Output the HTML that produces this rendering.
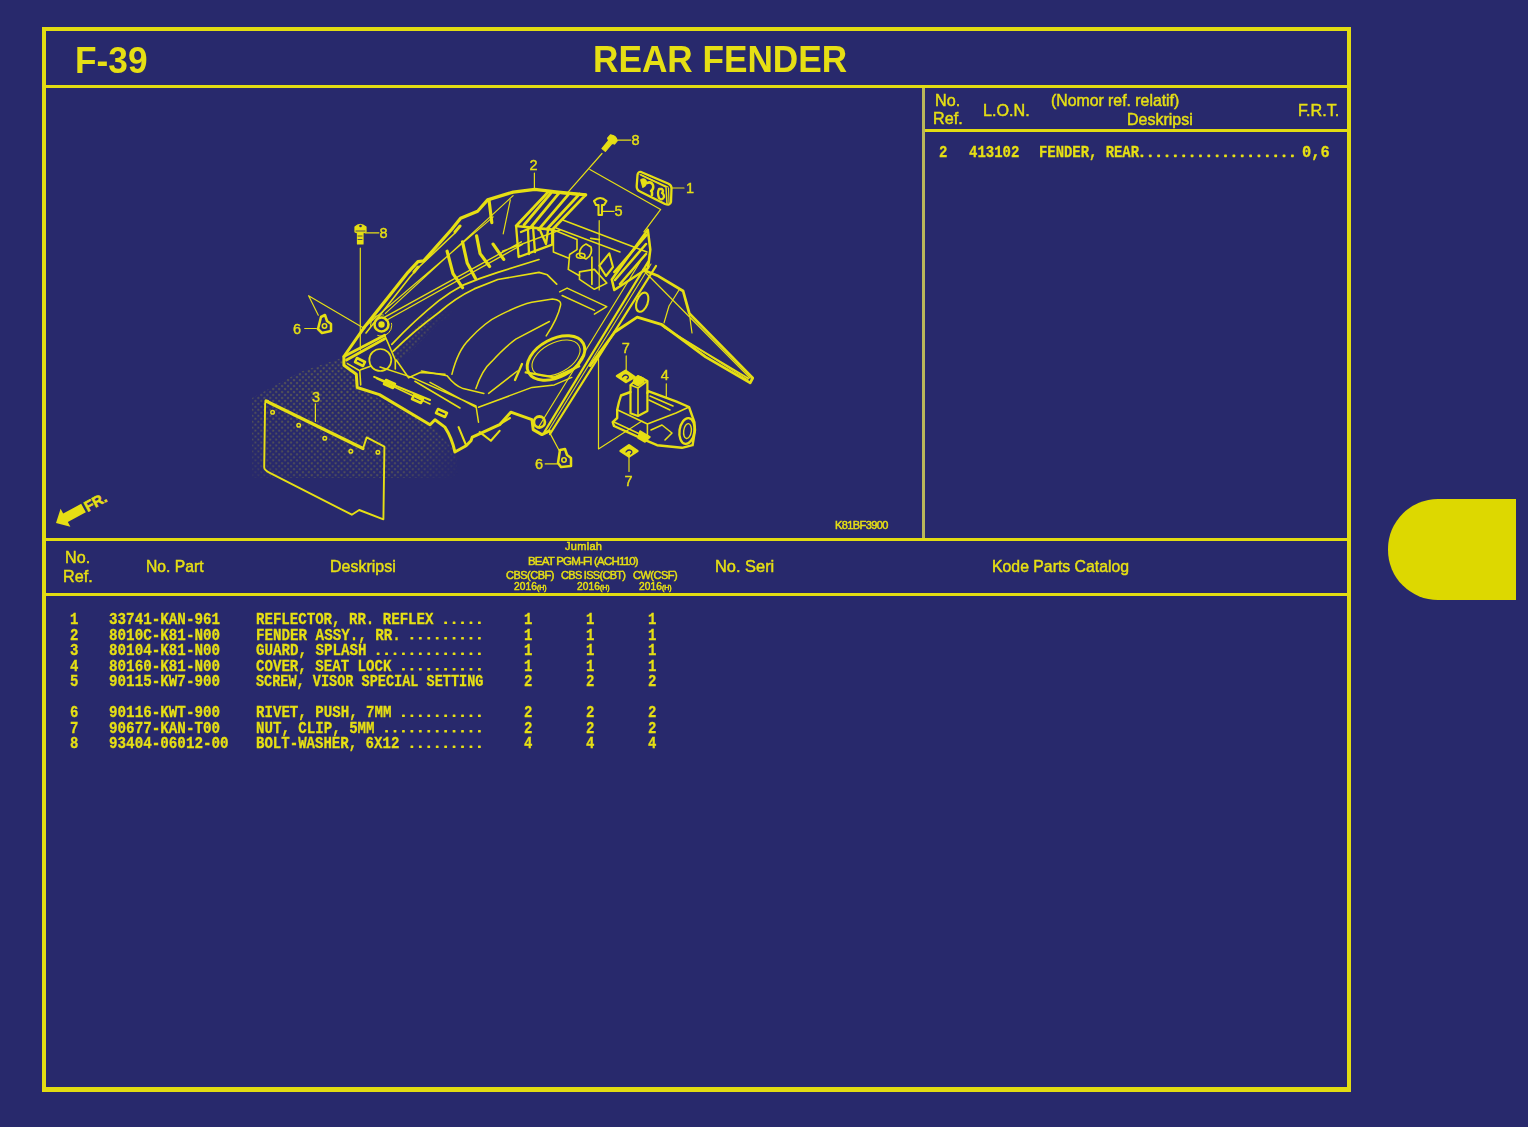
<!DOCTYPE html>
<html><head><meta charset="utf-8">
<style>
html,body{margin:0;padding:0;}
body{width:1528px;height:1127px;background:#28296c;position:relative;overflow:hidden;font-family:"Liberation Sans",sans-serif;color:#e6df14;}
.a{position:absolute;}
.ln{position:absolute;background:#e2dc12;}
.hs{font-family:"Liberation Sans",sans-serif;font-weight:bold;white-space:nowrap;line-height:1;}
.hd{font-family:"Liberation Sans",sans-serif;white-space:nowrap;line-height:1;-webkit-text-stroke:0.5px #e6df14;}
.mono{font-family:"Liberation Mono",monospace;font-weight:bold;white-space:pre;line-height:1;-webkit-text-stroke:0.3px #e6df14;}
.rows{line-height:15.5px;}
#tab{position:absolute;left:1388px;top:499px;width:128px;height:101px;background:#ddd800;border-radius:50px 0 0 50px / 50px 0 0 50px;}
svg{position:absolute;left:0;top:0;}
</style></head>
<body>
<div class="ln" style="left:42px;top:27px;width:1309px;height:4px;"></div>
<div class="ln" style="left:42px;top:1087px;width:1309px;height:5px;"></div>
<div class="ln" style="left:42px;top:27px;width:4px;height:1065px;"></div>
<div class="ln" style="left:1347px;top:27px;width:4px;height:1065px;"></div>
<div class="ln" style="left:46px;top:85px;width:1301px;height:3px;"></div>
<div class="ln" style="left:922px;top:88px;width:3px;height:450px;background:#b9b65a;"></div>
<div class="ln" style="left:925px;top:129px;width:422px;height:3px;"></div>
<div class="ln" style="left:46px;top:538px;width:1301px;height:3px;"></div>
<div class="ln" style="left:46px;top:593px;width:1301px;height:3px;"></div>
<div id="tab"></div>
<svg width="1528" height="1127" viewBox="0 0 1528 1127">
<defs>
<pattern id="dots" width="4.2" height="4.2" patternUnits="userSpaceOnUse" patternTransform="rotate(45)"><circle cx="2.1" cy="2.1" r="1" fill="#e6df14"/></pattern>
<radialGradient id="fade" cx="0.45" cy="0.55" r="0.6"><stop offset="0" stop-color="#fff" stop-opacity="1"/><stop offset="0.7" stop-color="#fff" stop-opacity="0.7"/><stop offset="1" stop-color="#fff" stop-opacity="0"/></radialGradient>
<mask id="fm" maskUnits="userSpaceOnUse" x="240" y="280" width="240" height="210"><rect x="240" y="280" width="240" height="210" fill="url(#fade)"/></mask>
</defs>
<!-- halftone shadow -->
<g mask="url(#fm)">
<path d="M252,398 L300,372 L345,357 L358,388 L432,426 L456,452 L458,478 L252,478 Z" fill="url(#dots)" opacity="0.34"/>
<path d="M392,352 L420,322 L450,300 L472,292 L470,302 L440,322 L410,352 L398,362 Z" fill="url(#dots)" opacity="0.3"/>
</g>
<g fill="none" stroke="#e6df14" stroke-linejoin="round" stroke-linecap="round">
<!-- splash guard item 3 -->
<path d="M363,448.5 L366.7,437.4 L384.4,446.7 L383.4,519.3 L359.2,510 L351.8,514.7 L269.8,472.8 Q264.2,470 264.2,467.2 L265.1,404 Q265.5,400 268,401" stroke-width="1.9"/>
<path d="M266,401 L363,448.5" stroke-width="3.2"/>
<g stroke-width="1.49"><circle cx="272.6" cy="412.2" r="1.8"/><circle cx="298.7" cy="425.3" r="1.8"/><circle cx="324.8" cy="438.3" r="1.8"/><circle cx="350.8" cy="451.3" r="1.8"/><circle cx="377.9" cy="452.3" r="1.8"/></g>
<path d="M315.4,403.8 V421.5" stroke-width="1.2"/>

<!-- leaders -->
<g stroke-width="1.2">
<path d="M360.3,248 V350"/>
<path d="M318.3,315.2 L308.6,295.7 L364.4,328.6"/>
<path d="M304.7,328.5 H316.4"/>
<path d="M365.2,232.8 H378.9"/>
<path d="M602,153.5 L567.6,192.7"/>
<path d="M589.9,169.4 L660.7,209.4 L643.9,231.8"/>
<path d="M671.9,188 H684"/>
<path d="M603,211.3 H614.1"/>
<path d="M617.9,140.1 H630.9"/>
<path d="M599.2,220.6 V290 M598.5,352 V448.9 L642,421"/>
<path d="M534.4,173.1 V188"/>
<path d="M666.3,383.8 V396.9"/>
<path d="M626.2,355.9 V369.9"/>
<path d="M629,457.4 V471.4"/>
<path d="M545.2,463.9 H557.3"/>
<path d="M549.4,432.1 L559.3,450.8"/>
</g>

<!-- fasteners -->
<g stroke-width="1.2" fill="#e6df14">
<path d="M355,227 Q360,222 366,227 L366,232 L363,233 L363,244 L357.5,244 L357.5,233 L355,232 Z"/>
<g transform="translate(612,140) rotate(40)"><path d="M-4.5,-3 Q0,-6 4.5,-3 L4.5,1.5 L2.2,2.5 L2.2,13 L-2.2,13 L-2.2,2.5 L-4.5,1.5 Z"/></g>
</g>
<path d="M356,231 H365 M358,236 H362 M358,239.5 H362" stroke="#28296c" stroke-width="0.8"/>
<circle cx="360.5" cy="226" r="1.3" fill="#28296c" stroke="none"/>
<path d="M594,201 Q600,195 606.5,201 L604,205 L602,205 L602,215 L598.5,215 L598.5,205 L596,205 Z" stroke-width="2.07"/>
<g stroke-width="2.53">
<path d="M321,317 L325,315 L327,321 L331,324 L331,331 L322,333 L318,329 Z"/>
<circle cx="324.5" cy="326" r="2.2" stroke-width="1.61"/>
<path d="M560,450 L565,449 L567,455 L571,458 L571,466 L561,467 L558,463 Z"/>
<circle cx="564" cy="460" r="2.2" stroke-width="1.61"/>
<path d="M617,376 L625.5,370.8 L634.6,377 L626,382 Z" fill="#e6df14"/>
<path d="M622.5,377 q2,-3 5,-1.5 q2,2 -0.5,3.5" stroke="#28296c" stroke-width="1.3"/>
<path d="M620.6,451 L629,445.3 L637.4,451 L629,456.5 Z" fill="#e6df14"/>
<path d="M626,452 q2,-3 5,-1.5 q2,2 -0.5,3.5" stroke="#28296c" stroke-width="1.3"/>
</g>
<!-- item 1 reflector -->
<path d="M641,172 Q638,171.5 637.5,175 L636.7,186 Q636.5,190 640,191.5 L665,204 Q670,206 671,202 L671.5,188 Q671.5,185 668,183.5 Z" stroke-width="2.3"/>
<path d="M641,175 L666,187 L667,204" stroke-width="1.49"/>
<path d="M640,174.5 L668,187 M668.5,188 L669,203" stroke-width="1.2"/>
<path d="M641,180 q3,-2 5,1 q1,4 -3,6 Z" fill="#e6df14" stroke-width="1.72"/>
<path d="M647,183 q4,-2 6,2 q1,4 -2,6 M652,192 l0,3" stroke-width="2.53"/>
<path d="M659,189 q-2,4 0,9 q3,3 5,-1 q0,-3 -2,-4 q2,-2 0,-4 Z" stroke-width="2.3"/>
<!-- FENDER -->
<!-- left rim outer thick -->
<path d="M364.1,327.6 L408,272.3 L418,261.6 L423.7,260.9 L452,229 L460.6,218.3 L477.6,211.2 L487.6,199.9 L513.1,192.1 L534.8,189.3 L555.9,191.8 L585.7,194.9" stroke-width="3.22"/>
<path d="M366,333 L410,277 L420,266 L455,233" stroke-width="1.61"/>
<path d="M365.5,326.2 L493.2,216.9 M385.4,313.4 L513.1,195.6 M510.3,199.9 L503.2,233.9" stroke-width="1.2"/>
<path d="M418,267 L414,272 M460,226 L455,232" stroke-width="2.99"/>
<!-- rib base double line -->
<path d="M384.7,317.2 L521.4,241.8 M386,320.5 L522.5,244.5 M502.5,251.2 L560,230" stroke-width="1.4"/>
<!-- ribs -->
<g stroke-width="3.2">
<path d="M447.1,251.2 L453,273.6 L462.5,287.7"/>
<path d="M462.5,241.8 L467.2,263 L475.4,278.3"/>
<path d="M476.6,235.9 L480.1,253.6 L489.6,266.5"/>
<path d="M493.1,244.1 L503.7,259.4"/>
<path d="M489,199.9 L491.8,222.6"/>
</g>
<!-- top grille -->
<path d="M548.4,191.8 L585.7,194.9 L552.2,229.7 L516.1,226 Z" stroke-width="2.76"/>
<path d="M516.1,226 L518.6,257 L552.2,244.6 L552.2,229.7" stroke-width="2.3"/>
<g stroke-width="2.76"><path d="M559.6,192.4 L531,227 M569.6,193.2 L538.5,229.7 M579.5,194 L547,229 M551,193 L524,225"/></g>
<path d="M521,232 L533,227 L535,252 M528,230 L529,254 M540,230 L546,244 L548,230" stroke-width="2.3"/>

<!-- back rim double -->
<path d="M562.1,219.8 L647,252 M556,228 L620,252" stroke-width="1.49"/>
<!-- bracket block -->
<path d="M553.4,229.7 L577,239.6 L577,249.6 L569.6,254.5 L568.3,269.4 L579.5,275.7 M553.4,229.7 L553.4,252 L568.3,258" stroke-width="1.61"/>
<path d="M590.7,238.4 L599.4,239.6 M591.9,257 L591.9,284.3 M586,244 q-8,4 -6,12 l6,3 q7,-4 5,-12 Z" stroke-width="1.72"/>
<ellipse cx="580.7" cy="255.8" rx="4.3" ry="2.5" stroke-width="1.61"/>
<path d="M579.5,271.9 L594.4,269.4 L606.8,283.1 L594.4,289.3 L579.5,279.4 Z" stroke-width="1.61"/>
<path d="M599.4,265.7 L609.3,253.3 L613,267 L606,276 Z" stroke-width="2.07"/>
<path d="M559.6,291.8 L567.1,288.1 L606.8,306.7 L594.4,314.2 M562.1,295.5 L594.4,310.4" stroke-width="1.49"/>
<!-- right grille panel -->
<path d="M647.8,229.7 L650.3,249.6 L648,268 L614.3,290 L611.8,279.4 Z" stroke-width="2.53"/>
<g stroke-width="2.53"><path d="M646.6,235 L614.3,272 M646,244 L615,280 M646,254 L620,284"/></g>
<!-- right rail -->
<g stroke-width="2.3">
<path d="M648,262 L544.4,432"/>
<path d="M656,266 L550,434"/>
<path d="M640,262 L538,428" stroke-width="1.2"/>
<path d="M651,264 L547,433" stroke-width="1.1"/>
</g>
<!-- rear flap -->
<path d="M643.4,269.9 L658.3,276.1 L683.1,291 L689.3,313.4 L752.7,378 L750.2,382.9 L705.5,356.9 L662,324.6 L637.2,317.1 L614.8,332 L590,365.6" stroke-width="2.76"/>
<path d="M664.5,327.5 L705,352.5 L748.5,378.5" stroke-width="1.6"/>
<path d="M645,272 L750,378 M662,326 L748,380 M679,290 L669,306 L664,323 M689.3,313.4 L692,333" stroke-width="1.2"/>
<ellipse cx="642.2" cy="302.2" rx="5.5" ry="10" transform="rotate(20 642.2 302.2)" stroke-width="2.07"/>

<!-- tub contours -->
<g stroke-width="1.49">
<path stroke-width="1.7" d="M391.8,344.3 Q415,320 438.9,300.7 Q450,292 462.5,285.4 Q480,278 497.8,272.4 L539,259.5"/>
<path stroke-width="1.7" d="M393,351.3 Q415,330 438.9,312.5 Q455,298 474.2,288.9 L497.8,279.5 L539,272.4 L547.3,274.8 L556.7,284.2"/>
<path d="M451.9,374.2 Q458,350 469.5,339.1 Q485,322 499.8,315.1 Q520,305 531.8,302.3 L552.5,299.1 Q562,300 560.5,305.5 Q558,318 546.2,335.9"/>
<path d="M421.5,371 L447.1,375.8 Q455,386 463.1,388.6 L483.9,393.4"/>
<path d="M475.9,388.6 Q482,370 491.8,361.4 Q505,347 515.8,339.1 L549.4,321.5"/>
<path d="M488.6,393.4 L517.4,371"/>
<path d="M380,367 L412,377.4 L476,406 L478.5,422.2 M430,382.4 L476,407.3 M478.5,407.3 L532,387.4 L554.3,384.9 L571.8,377.4"/>
</g>
<!-- cup -->
<ellipse cx="556" cy="358" rx="31" ry="19" transform="rotate(-28 556 358)" stroke-width="2.99"/>
<ellipse cx="556" cy="358" rx="26" ry="15" transform="rotate(-28 556 358)" stroke-width="1.1"/>
<path d="M525.7,372.4 L554.3,377.4 L579.2,366.2 M522,364 L515,380" stroke-width="2.3"/>

<!-- bottom front thick edge -->
<path d="M364.1,327.6 L343.9,356.5 L343.9,365.3 L356.3,374.2 L357.2,387.5 L379.4,394.6 L430,424.7 L435,419.7 L444.9,427.1 Q452,438 454.9,452 L466.1,445.8 L471,440.8 L472.3,437.1 L499.6,424.7 L510.8,412.2 L532,419.7 L533.2,429.6 L541.9,434.6 L549.4,430.9" stroke-width="2.99"/>
<path d="M343.9,356.5 L384.7,335.2 M346.5,360 L384.7,338.7" stroke-width="2.76"/>
<path d="M347.4,363.6 L359.8,370.7 L360.7,384.9 M360.7,369.8 L370.5,366.2 M384.7,335.2 L395.3,360 L395.3,368.9 M376.7,378.6 L430,404 M396.2,360 L408.6,377.8 L420.2,372.4 L445,374.2 M414.9,381.3 L460,408" stroke-width="1.61"/>
<path d="M374.2,376.9 L430,400 M458.6,427.1 L466,445 M479.7,432.1 L490.9,440.8 L499.6,430.9 M500,424 L510,418" stroke-width="2.07"/>
<circle cx="381.1" cy="325.4" r="10.6" stroke-width="1.0" stroke-dasharray="20 12"/>
<circle cx="381.5" cy="324.5" r="7" stroke-width="2.53"/>
<circle cx="381.5" cy="324.5" r="3.2" fill="#e6df14" stroke="none"/>
<circle cx="380.3" cy="360" r="11" stroke-width="1.72"/>
<g stroke-width="2.53"><path d="M357,358 L365,362 L363,366 L355,362 Z M386,380 L395,384 L393,388 L384,384 Z M414,395 L423,399 L421,403 L412,399 Z M438,409 L447,413 L445,417 L436,413 Z"/></g>
<circle cx="539.4" cy="422" r="5.5" stroke-width="2.76"/>

<!-- item 4 seat lock cover -->
<path d="M630.5,385 L630.5,413.2 L638,416 L647.4,411 L647.4,381 L640,377 Z" stroke-width="2.2"/>
<path d="M630.5,385 L638,388 L647.4,381 M638,388 L638,416" stroke-width="1.6"/>
<path d="M634,379 L638,375.5 L644,378.5 L644,382 L638,386 L633,383 Z" fill="#e6df14" stroke-width="1.2"/>
<path d="M630.5,392 L621,395.5 L619,402 L617.2,409.7 L617.2,418 L612.7,422.1 L614,426 L644.7,439.9 L657.1,445.2 L682,447.8 L692.6,445.2 L695,430 L694.4,422.1 L689,407 L676.6,401.7 L648.2,391.1 L647.4,393" stroke-width="2.4"/>
<path d="M617.2,409.7 L647.4,424 L676,413 L689,407 M647.4,424 L647.4,436 M614,422 L644,436 M650,396 L673,406 M649,400 L670,410 M651,430 L662,425 L672,433 L665,440" stroke-width="1.6"/>
<ellipse cx="687" cy="431" rx="7.5" ry="13" transform="rotate(8 687 431)" stroke-width="2.4"/>
<ellipse cx="687.5" cy="431" rx="3.8" ry="7.5" transform="rotate(8 687 431)" stroke-width="1.4"/>
<path d="M640,431 L650,437 L645,442 L638,438 Z" fill="#e6df14" stroke-width="1.5"/>
</g>

<!-- FR arrow -->
<g transform="translate(56,523) rotate(-28.5) scale(1.08)" fill="#e6df14">
<path d="M0,0 L10,-9.5 L10,-4.5 L29,-4.5 L29,4.5 L10,4.5 L10,9.5 Z"/>
<text x="30.5" y="5" font-family="Liberation Sans" font-weight="bold" font-size="13.5" stroke="#e6df14" stroke-width="0.5">FR.</text>
</g>

<!-- labels -->
<g fill="#e6df14" font-family="Liberation Sans" font-size="14.5" stroke="#e6df14" stroke-width="0.4">
<text x="379.5" y="238.2">8</text>
<text x="631.5" y="145.2">8</text>
<text x="529.5" y="169.5">2</text>
<text x="686" y="192.8">1</text>
<text x="614.5" y="216.1">5</text>
<text x="293" y="333.9">6</text>
<text x="312" y="402.1">3</text>
<text x="621.7" y="353.2">7</text>
<text x="660.8" y="380.2">4</text>
<text x="535" y="468.7">6</text>
<text x="624.5" y="485.5">7</text>
</g>
</svg>

<svg width="1528" height="1127" style="position:absolute;left:0;top:0" fill="#e6df14"><rect x="444.24" y="621.40" width="2.8" height="2.6" rx="0.6"/><rect x="452.68" y="621.40" width="2.8" height="2.6" rx="0.6"/><rect x="461.12" y="621.40" width="2.8" height="2.6" rx="0.6"/><rect x="469.56" y="621.40" width="2.8" height="2.6" rx="0.6"/><rect x="478.00" y="621.40" width="2.8" height="2.6" rx="0.6"/><rect x="410.48" y="636.90" width="2.8" height="2.6" rx="0.6"/><rect x="418.92" y="636.90" width="2.8" height="2.6" rx="0.6"/><rect x="427.36" y="636.90" width="2.8" height="2.6" rx="0.6"/><rect x="435.80" y="636.90" width="2.8" height="2.6" rx="0.6"/><rect x="444.24" y="636.90" width="2.8" height="2.6" rx="0.6"/><rect x="452.68" y="636.90" width="2.8" height="2.6" rx="0.6"/><rect x="461.12" y="636.90" width="2.8" height="2.6" rx="0.6"/><rect x="469.56" y="636.90" width="2.8" height="2.6" rx="0.6"/><rect x="478.00" y="636.90" width="2.8" height="2.6" rx="0.6"/><rect x="376.72" y="652.40" width="2.8" height="2.6" rx="0.6"/><rect x="385.16" y="652.40" width="2.8" height="2.6" rx="0.6"/><rect x="393.60" y="652.40" width="2.8" height="2.6" rx="0.6"/><rect x="402.04" y="652.40" width="2.8" height="2.6" rx="0.6"/><rect x="410.48" y="652.40" width="2.8" height="2.6" rx="0.6"/><rect x="418.92" y="652.40" width="2.8" height="2.6" rx="0.6"/><rect x="427.36" y="652.40" width="2.8" height="2.6" rx="0.6"/><rect x="435.80" y="652.40" width="2.8" height="2.6" rx="0.6"/><rect x="444.24" y="652.40" width="2.8" height="2.6" rx="0.6"/><rect x="452.68" y="652.40" width="2.8" height="2.6" rx="0.6"/><rect x="461.12" y="652.40" width="2.8" height="2.6" rx="0.6"/><rect x="469.56" y="652.40" width="2.8" height="2.6" rx="0.6"/><rect x="478.00" y="652.40" width="2.8" height="2.6" rx="0.6"/><rect x="402.04" y="667.90" width="2.8" height="2.6" rx="0.6"/><rect x="410.48" y="667.90" width="2.8" height="2.6" rx="0.6"/><rect x="418.92" y="667.90" width="2.8" height="2.6" rx="0.6"/><rect x="427.36" y="667.90" width="2.8" height="2.6" rx="0.6"/><rect x="435.80" y="667.90" width="2.8" height="2.6" rx="0.6"/><rect x="444.24" y="667.90" width="2.8" height="2.6" rx="0.6"/><rect x="452.68" y="667.90" width="2.8" height="2.6" rx="0.6"/><rect x="461.12" y="667.90" width="2.8" height="2.6" rx="0.6"/><rect x="469.56" y="667.90" width="2.8" height="2.6" rx="0.6"/><rect x="478.00" y="667.90" width="2.8" height="2.6" rx="0.6"/><rect x="402.04" y="714.40" width="2.8" height="2.6" rx="0.6"/><rect x="410.48" y="714.40" width="2.8" height="2.6" rx="0.6"/><rect x="418.92" y="714.40" width="2.8" height="2.6" rx="0.6"/><rect x="427.36" y="714.40" width="2.8" height="2.6" rx="0.6"/><rect x="435.80" y="714.40" width="2.8" height="2.6" rx="0.6"/><rect x="444.24" y="714.40" width="2.8" height="2.6" rx="0.6"/><rect x="452.68" y="714.40" width="2.8" height="2.6" rx="0.6"/><rect x="461.12" y="714.40" width="2.8" height="2.6" rx="0.6"/><rect x="469.56" y="714.40" width="2.8" height="2.6" rx="0.6"/><rect x="478.00" y="714.40" width="2.8" height="2.6" rx="0.6"/><rect x="385.16" y="729.90" width="2.8" height="2.6" rx="0.6"/><rect x="393.60" y="729.90" width="2.8" height="2.6" rx="0.6"/><rect x="402.04" y="729.90" width="2.8" height="2.6" rx="0.6"/><rect x="410.48" y="729.90" width="2.8" height="2.6" rx="0.6"/><rect x="418.92" y="729.90" width="2.8" height="2.6" rx="0.6"/><rect x="427.36" y="729.90" width="2.8" height="2.6" rx="0.6"/><rect x="435.80" y="729.90" width="2.8" height="2.6" rx="0.6"/><rect x="444.24" y="729.90" width="2.8" height="2.6" rx="0.6"/><rect x="452.68" y="729.90" width="2.8" height="2.6" rx="0.6"/><rect x="461.12" y="729.90" width="2.8" height="2.6" rx="0.6"/><rect x="469.56" y="729.90" width="2.8" height="2.6" rx="0.6"/><rect x="478.00" y="729.90" width="2.8" height="2.6" rx="0.6"/><rect x="410.48" y="745.40" width="2.8" height="2.6" rx="0.6"/><rect x="418.92" y="745.40" width="2.8" height="2.6" rx="0.6"/><rect x="427.36" y="745.40" width="2.8" height="2.6" rx="0.6"/><rect x="435.80" y="745.40" width="2.8" height="2.6" rx="0.6"/><rect x="444.24" y="745.40" width="2.8" height="2.6" rx="0.6"/><rect x="452.68" y="745.40" width="2.8" height="2.6" rx="0.6"/><rect x="461.12" y="745.40" width="2.8" height="2.6" rx="0.6"/><rect x="469.56" y="745.40" width="2.8" height="2.6" rx="0.6"/><rect x="478.00" y="745.40" width="2.8" height="2.6" rx="0.6"/><rect x="1140.52" y="154.60" width="2.8" height="2.6" rx="0.6"/><rect x="1148.88" y="154.60" width="2.8" height="2.6" rx="0.6"/><rect x="1157.24" y="154.60" width="2.8" height="2.6" rx="0.6"/><rect x="1165.60" y="154.60" width="2.8" height="2.6" rx="0.6"/><rect x="1173.96" y="154.60" width="2.8" height="2.6" rx="0.6"/><rect x="1182.32" y="154.60" width="2.8" height="2.6" rx="0.6"/><rect x="1190.68" y="154.60" width="2.8" height="2.6" rx="0.6"/><rect x="1199.04" y="154.60" width="2.8" height="2.6" rx="0.6"/><rect x="1207.40" y="154.60" width="2.8" height="2.6" rx="0.6"/><rect x="1215.76" y="154.60" width="2.8" height="2.6" rx="0.6"/><rect x="1224.12" y="154.60" width="2.8" height="2.6" rx="0.6"/><rect x="1232.48" y="154.60" width="2.8" height="2.6" rx="0.6"/><rect x="1240.84" y="154.60" width="2.8" height="2.6" rx="0.6"/><rect x="1249.20" y="154.60" width="2.8" height="2.6" rx="0.6"/><rect x="1257.56" y="154.60" width="2.8" height="2.6" rx="0.6"/><rect x="1265.92" y="154.60" width="2.8" height="2.6" rx="0.6"/><rect x="1274.28" y="154.60" width="2.8" height="2.6" rx="0.6"/><rect x="1282.64" y="154.60" width="2.8" height="2.6" rx="0.6"/><rect x="1291.00" y="154.60" width="2.8" height="2.6" rx="0.6"/></svg>
<div class="a hs" style="left:75px;top:42px;font-size:37px;transform:scaleX(0.953);transform-origin:0 0;">F-39</div>
<div class="a hs" style="left:593px;top:41px;font-size:37px;transform:scaleX(0.951);transform-origin:0 0;">REAR FENDER</div>
<div class="a hd" style="left:935px;top:92px;font-size:17px;transform:scaleX(0.95);transform-origin:0 0;">No.</div>
<div class="a hd" style="left:933px;top:110px;font-size:17px;transform:scaleX(0.95);transform-origin:0 0;">Ref.</div>
<div class="a hd" style="left:983px;top:102px;font-size:17px;transform:scaleX(0.95);transform-origin:0 0;">L.O.N.</div>
<div class="a hd" style="left:1051px;top:92px;font-size:17px;transform:scaleX(0.93);transform-origin:0 0;">(Nomor ref. relatif)</div>
<div class="a hd" style="left:1127px;top:111px;font-size:17px;transform:scaleX(0.94);transform-origin:0 0;">Deskripsi</div>
<div class="a hd" style="left:1298px;top:102px;font-size:17px;transform:scaleX(0.95);transform-origin:0 0;">F.R.T.</div>
<div class="a mono" style="left:939px;top:145px;font-size:16px;transform:scaleX(0.875);transform-origin:0 0;">2</div>
<div class="a mono" style="left:969px;top:145px;font-size:16px;transform:scaleX(0.875);transform-origin:0 0;">413102</div>
<div class="a mono" style="left:1039px;top:145px;font-size:16px;transform:scaleX(0.868);transform-origin:0 0;">FENDER, REAR</div>
<div class="a mono" style="left:1302px;top:145px;font-size:16px;transform:scaleX(0.96);transform-origin:0 0;">0,6</div>
<div class="a hd" style="left:65px;top:549px;font-size:17px;transform:scaleX(0.95);transform-origin:0 0;">No.</div>
<div class="a hd" style="left:63px;top:568px;font-size:17px;transform:scaleX(0.95);transform-origin:0 0;">Ref.</div>
<div class="a hd" style="left:146px;top:558px;font-size:17px;transform:scaleX(0.925);transform-origin:0 0;">No. Part</div>
<div class="a hd" style="left:330px;top:558px;font-size:17px;transform:scaleX(0.94);transform-origin:0 0;">Deskripsi</div>
<div class="a hd" style="left:565px;top:541px;font-size:11px;letter-spacing:0.3px;">Jumlah</div>
<div class="a hd" style="left:528px;top:556px;font-size:11.5px;letter-spacing:-0.8px;">BEAT PGM-FI (ACH110)</div>
<div class="a hd" style="left:506px;top:570px;font-size:11px;letter-spacing:-0.5px;">CBS(CBF)</div>
<div class="a hd" style="left:561px;top:570px;font-size:11px;letter-spacing:-0.7px;">CBS ISS(CBT)</div>
<div class="a hd" style="left:633px;top:570px;font-size:11px;letter-spacing:-0.5px;">CW(CSF)</div>
<div class="a hd" style="left:514px;top:582px;font-size:10.2px;letter-spacing:0.05px;">2016<span style="font-size:7px">(H)</span></div>
<div class="a hd" style="left:577px;top:582px;font-size:10.2px;letter-spacing:0.05px;">2016<span style="font-size:7px">(H)</span></div>
<div class="a hd" style="left:639px;top:582px;font-size:10.2px;letter-spacing:0.05px;">2016<span style="font-size:7px">(H)</span></div>
<div class="a hd" style="left:715px;top:558px;font-size:17px;transform:scaleX(0.965);transform-origin:0 0;">No. Seri</div>
<div class="a hd" style="left:992px;top:558px;font-size:17px;transform:scaleX(0.93);transform-origin:0 0;">Kode Parts Catalog</div>
<div class="a hd" style="left:835px;top:520px;font-size:11px;letter-spacing:-0.6px;">K81BF3900</div>
<div class="a mono rows" style="left:70px;top:613px;font-size:16px;transform:scaleX(0.875);transform-origin:0 0;">1
2
3
4
5

6
7
8</div>
<div class="a mono rows" style="left:109px;top:613px;font-size:16px;transform:scaleX(0.89);transform-origin:0 0;">33741-KAN-961
8010C-K81-N00
80104-K81-N00
80160-K81-N00
90115-KW7-900

90116-KWT-900
90677-KAN-T00
93404-06012-00</div>
<div class="a mono" style="left:256px;top:612.1px;font-size:16px;transform:scaleX(0.88);transform-origin:0 0;">REFLECTOR, RR. REFLEX</div>
<div class="a mono" style="left:256px;top:627.6px;font-size:16px;transform:scaleX(0.887);transform-origin:0 0;">FENDER ASSY., RR.</div>
<div class="a mono" style="left:256px;top:643.1px;font-size:16px;transform:scaleX(0.885);transform-origin:0 0;">GUARD, SPLASH</div>
<div class="a mono" style="left:256px;top:658.6px;font-size:16px;transform:scaleX(0.882);transform-origin:0 0;">COVER, SEAT LOCK</div>
<div class="a mono" style="left:256px;top:674.1px;font-size:16px;transform:scaleX(0.846);transform-origin:0 0;">SCREW, VISOR SPECIAL SETTING</div>
<div class="a mono" style="left:256px;top:705.1px;font-size:16px;transform:scaleX(0.882);transform-origin:0 0;">RIVET, PUSH, 7MM</div>
<div class="a mono" style="left:256px;top:720.6px;font-size:16px;transform:scaleX(0.882);transform-origin:0 0;">NUT, CLIP, 5MM</div>
<div class="a mono" style="left:256px;top:736.1px;font-size:16px;transform:scaleX(0.878);transform-origin:0 0;">BOLT-WASHER, 6X12</div>
<div class="a mono rows" style="left:524px;top:613px;font-size:16px;transform:scaleX(0.875);transform-origin:0 0;">1
1
1
1
2

2
2
4</div>
<div class="a mono rows" style="left:586px;top:613px;font-size:16px;transform:scaleX(0.875);transform-origin:0 0;">1
1
1
1
2

2
2
4</div>
<div class="a mono rows" style="left:648px;top:613px;font-size:16px;transform:scaleX(0.875);transform-origin:0 0;">1
1
1
1
2

2
2
4</div>

</body></html>
